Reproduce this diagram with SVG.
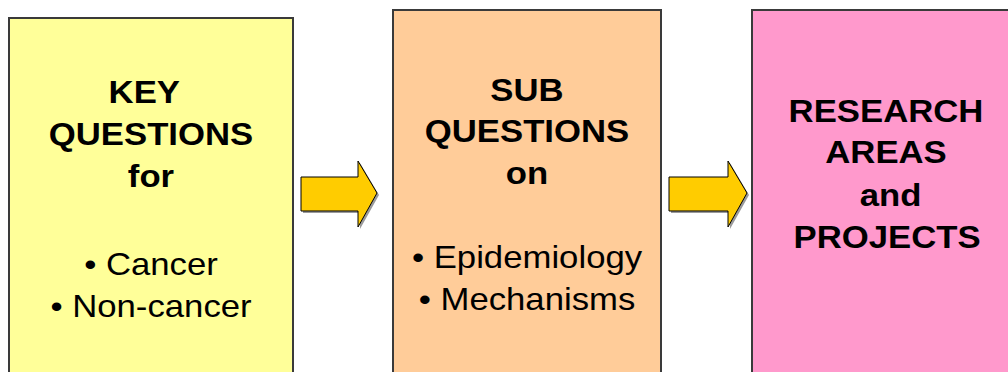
<svg xmlns="http://www.w3.org/2000/svg" width="1008" height="372" viewBox="0 0 1008 372">
<style>
.box{stroke:#3a3a3a;stroke-width:2}
.t{font-family:"Liberation Sans",Arial,sans-serif;font-size:31px;fill:#000;text-anchor:middle}
.b{font-weight:bold}
.arrow{fill:#FFCC00;stroke:#000;stroke-width:1}
.shadow{fill:#9a9a9a}
</style>
<rect width="1008" height="372" fill="#fff"/>
<g id="key-questions">
<rect class="box" x="9" y="18" width="284" height="370" fill="#FFFF99"/>
<g transform="translate(151 0) scale(1.12 1)">
<text class="t b" x="-6" y="103">KEY</text>
<text class="t b" x="0" y="145">QUESTIONS</text>
<text class="t b" x="0" y="187">for</text>
<text class="t" x="0" y="275">• Cancer</text>
<text class="t" x="0" y="317">• Non-cancer</text>
</g>
</g>
<g id="sub-questions">
<rect class="box" x="393" y="10" width="268" height="380" fill="#FFCC99"/>
<g transform="translate(527 0) scale(1.12 1)">
<text class="t b" x="0" y="101">SUB</text>
<text class="t b" x="0" y="142">QUESTIONS</text>
<text class="t b" x="0" y="184">on</text>
<text class="t" x="0" y="268">• Epidemiology</text>
<text class="t" x="0" y="310">• Mechanisms</text>
</g>
</g>
<g id="research-areas">
<rect class="box" x="752" y="10" width="300" height="380" fill="#FF99CC"/>
<g transform="translate(886 0) scale(1.12 1)">
<text class="t b" x="0" y="122">RESEARCH</text>
<text class="t b" x="0" y="163">AREAS</text>
<text class="t b" x="4" y="206">and</text>
<text class="t b" x="1" y="248">PROJECTS</text>
</g>
</g>
<g id="connectors">
<polygon class="shadow" points="303,179 360,179 360,163 379,195 360,229 360,213 303,213"/>
<polygon class="arrow" points="301,177 358,177 358,161 377,193 358,227 358,211 301,211"/>
<polygon class="shadow" points="671,179 730,179 730,163 749,195 730,229 730,213 671,213"/>
<polygon class="arrow" points="669,177 728,177 728,161 747,193 728,227 728,211 669,211"/>
</g>
</svg>
